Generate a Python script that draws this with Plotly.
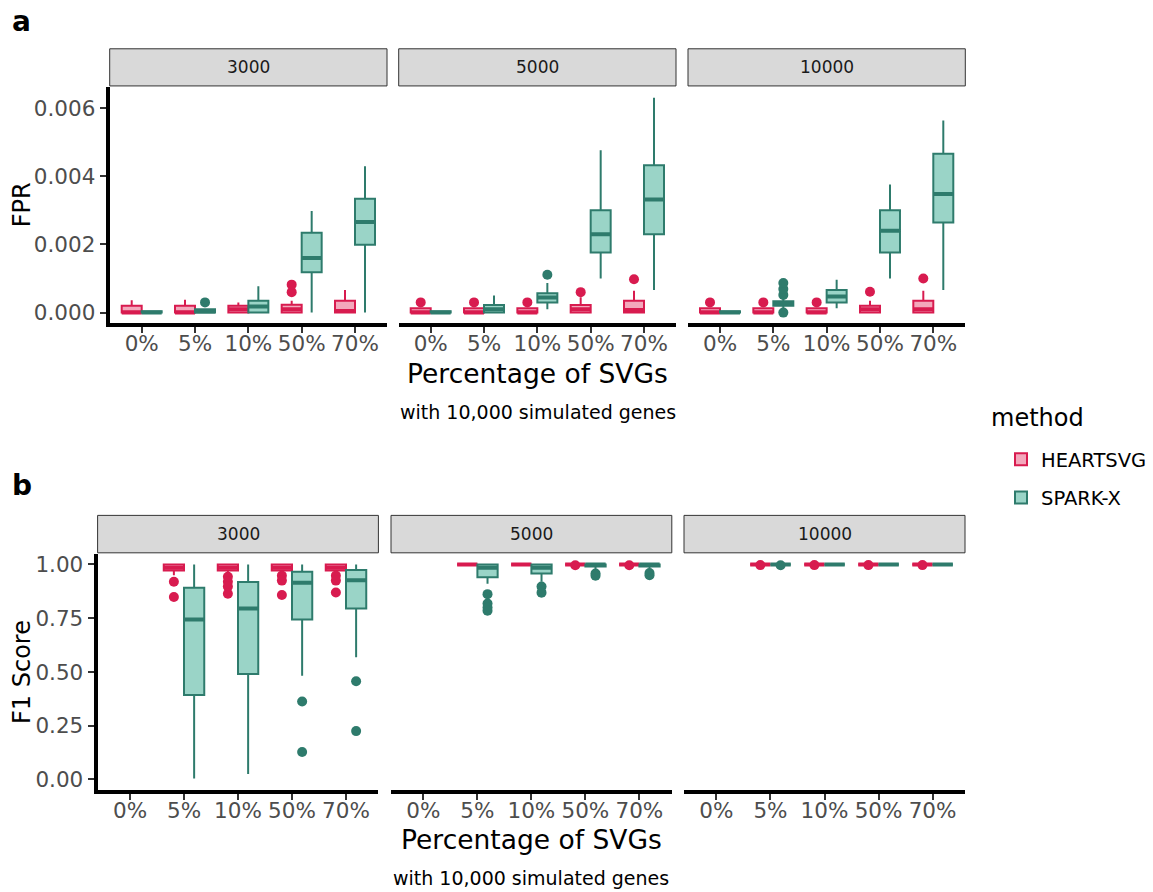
import plotly.graph_objects as go

W, H = 1153, 892

CATEGORIES = ["0%", "5%", "10%", "50%", "70%"]
SIZES = ["3000", "5000", "10000"]
METHODS = ["HEARTSVG", "SPARK-X"]

# Each entry: (lower whisker, q1, median, q3, upper whisker); None = no data
FPR_3000_HEARTSVG = [(0, 0, 0, 0.0002, 0.00036), (0, 0, 0, 0.0002, 0.00038), (0, 0, 0.0001, 0.0002, 0.0003),
                     (0, 0, 0.0001, 0.00023, 0.00035), (0, 0, 0.00005, 0.00035, 0.00066)]
FPR_3000_HEARTSVG_OUT = [[], [], [], [0.0006, 0.00082], []]
FPR_3000_SPARKX = [(0, 0, 0, 0.00004, 0.00004), (0, 0, 0.00003, 0.0001, 0.0001), (0, 0, 0.00018, 0.00035, 0.00077),
                   (0, 0.00118, 0.0016, 0.00234, 0.00298), (0, 0.00199, 0.00266, 0.00334, 0.00429)]
FPR_3000_SPARKX_OUT = [[], [0.0003], [], [], []]

FPR_5000_HEARTSVG = [(0, 0, 0, 0.00013, 0.00013), (0, 0, 0, 0.00013, 0.00013), (0, 0, 0, 0.00013, 0.00013),
                     (0, 0, 0.0001, 0.00022, 0.00045), (0, 0, 0.00008, 0.00035, 0.00064)]
FPR_5000_HEARTSVG_OUT = [[0.0003], [0.0003], [0.0003], [0.0006], [0.00098]]
FPR_5000_SPARKX = [(0, 0, 0, 0.00004, 0.00004), (0, 0, 0.0001, 0.00022, 0.0005), (0.0001, 0.0003, 0.00044, 0.00057, 0.00087),
                   (0.001, 0.00176, 0.0023, 0.003, 0.00476), (0.00066, 0.0023, 0.00332, 0.00432, 0.0063)]
FPR_5000_SPARKX_OUT = [[], [], [0.00111], [], []]

FPR_10000_HEARTSVG = [(0, 0, 0, 0.00013, 0.00013), (0, 0, 0, 0.00013, 0.00013), (0, 0, 0, 0.00013, 0.00013),
                      (0, 0, 0.0001, 0.0002, 0.00035), (0, 0, 0.0001, 0.00035, 0.00064)]
FPR_10000_HEARTSVG_OUT = [[0.0003], [0.0003], [0.0003], [0.00061], [0.001]]
FPR_10000_SPARKX = [(0, 0, 0, 0.00004, 0.00004), (0.0001, 0.0002, 0.00027, 0.00033, 0.00045),
                    (0.00013, 0.0003, 0.00047, 0.00066, 0.00096), (0.001, 0.00176, 0.0024, 0.003, 0.00376),
                    (0.00066, 0.00264, 0.00348, 0.00466, 0.00563)]
FPR_10000_SPARKX_OUT = [[], [0, 0.00052, 0.00069, 0.00087], [], [], []]

F1_3000_HEARTSVG = [None, (0.95, 0.972, 0.985, 1.0, 1.0), (0.955, 0.972, 0.985, 1.0, 1.0),
                    (0.96, 0.972, 0.985, 1.0, 1.0), (0.96, 0.972, 0.985, 1.0, 1.0)]
F1_3000_HEARTSVG_OUT = [[], [0.92, 0.849], [0.943, 0.92, 0.897, 0.864], [0.948, 0.925, 0.858], [0.948, 0.925, 0.87]]
F1_3000_SPARKX = [None, (0.005, 0.393, 0.744, 0.892, 1.0), (0.026, 0.491, 0.795, 0.918, 1.0),
                  (0.483, 0.744, 0.915, 0.966, 1.0), (0.568, 0.795, 0.927, 0.974, 1.0)]
F1_3000_SPARKX_OUT = [[], [], [], [0.363, 0.128], [0.457, 0.225]]

F1_5000_HEARTSVG = [None, (1, 1, 1, 1, 1), (1, 1, 1, 1, 1), (1, 1, 1, 1, 1), (1, 1, 1, 1, 1)]
F1_5000_HEARTSVG_OUT = [[], [], [], [0.996], [0.996]]
F1_5000_SPARKX = [None, (0.91, 0.94, 0.985, 1.0, 1.0), (0.92, 0.958, 0.985, 1.0, 1.0),
                  (0.975, 0.99, 1.0, 1.0, 1.0), (0.975, 0.99, 1.0, 1.0, 1.0)]
F1_5000_SPARKX_OUT = [[], [0.862, 0.818, 0.80, 0.785], [0.897, 0.869], [0.958, 0.948], [0.96, 0.95]]

F1_10000_HEARTSVG = [None, (1, 1, 1, 1, 1), (1, 1, 1, 1, 1), (1, 1, 1, 1, 1), (1, 1, 1, 1, 1)]
F1_10000_HEARTSVG_OUT = [[], [0.997], [0.997], [0.997], [0.997]]
F1_10000_SPARKX = [None, (1, 1, 1, 1, 1), (1, 1, 1, 1, 1), (1, 1, 1, 1, 1), (1, 1, 1, 1, 1)]
F1_10000_SPARKX_OUT = [[], [0.996], [], [], []]

FPR_TICKS = [0, 0.002, 0.004, 0.006]
FPR_TICKTEXT = ["0.000", "0.002", "0.004", "0.006"]
F1_TICKS = [0, 0.25, 0.5, 0.75, 1.0]
F1_TICKTEXT = ["0.00", "0.25", "0.50", "0.75", "1.00"]

LINE = {"HEARTSVG": "#D81B4F", "SPARK-X": "#2E7B6C"}
FILL = {"HEARTSVG": "#F3A8BC", "SPARK-X": "#9AD4C7"}
OFFSET = {"HEARTSVG": -0.1875, "SPARK-X": 0.1875}
FONT = "DejaVu Sans"


def X(px):
    return px / W


def Y(py):
    return 1 - py / H


fig = go.Figure()

rows = [
    {"data": [(FPR_3000_HEARTSVG, FPR_3000_HEARTSVG_OUT, FPR_3000_SPARKX, FPR_3000_SPARKX_OUT),
              (FPR_5000_HEARTSVG, FPR_5000_HEARTSVG_OUT, FPR_5000_SPARKX, FPR_5000_SPARKX_OUT),
              (FPR_10000_HEARTSVG, FPR_10000_HEARTSVG_OUT, FPR_10000_SPARKX, FPR_10000_SPARKX_OUT)],
     "xdom": [(109.7, 387.0), (398.7, 676.0), (688.0, 965.3)],
     "ydom": (85.4, 322.8), "strip": (47.0, 84.3),
     "range": [-0.000315, 0.006615], "ticks": FPR_TICKS, "ticktext": FPR_TICKTEXT,
     "ytitle": "FPR", "title_y": 373, "cap_y": 412, "letter": "a", "letter_y": 20},
    {"data": [(F1_3000_HEARTSVG, F1_3000_HEARTSVG_OUT, F1_3000_SPARKX, F1_3000_SPARKX_OUT),
              (F1_5000_HEARTSVG, F1_5000_HEARTSVG_OUT, F1_5000_SPARKX, F1_5000_SPARKX_OUT),
              (F1_10000_HEARTSVG, F1_10000_HEARTSVG_OUT, F1_10000_SPARKX, F1_10000_SPARKX_OUT)],
     "xdom": [(97.6, 378.4), (391.0, 671.8), (684.0, 965.0)],
     "ydom": (554.2, 791.8), "strip": (515.7, 553.3),
     "range": [-0.05, 1.05], "ticks": F1_TICKS, "ticktext": F1_TICKTEXT,
     "ytitle": "F1 Score", "title_y": 841, "cap_y": 880, "letter": "b", "letter_y": 486},
]

layout = {}
annotations = []
shapes = []
ax = 0
for r, row in enumerate(rows):
    for p in range(3):
        ax += 1
        xs = "x" if ax == 1 else f"x{ax}"
        ys = "y" if ax == 1 else f"y{ax}"
        heart, heart_out, spark, spark_out = row["data"][p]
        for method, stats, outs in (("HEARTSVG", heart, heart_out), ("SPARK-X", spark, spark_out)):
            xv, lo, q1, md, q3, hi = [], [], [], [], [], []
            for i, s in enumerate(stats):
                if s is None:
                    continue
                xv.append(i + OFFSET[method])
                lo.append(s[0]); q1.append(s[1]); md.append(s[2]); q3.append(s[3]); hi.append(s[4])
            fig.add_trace(go.Box(
                x=xv, q1=q1, median=md, q3=q3, lowerfence=lo, upperfence=hi,
                width=0.375, whiskerwidth=0, boxpoints=False,
                line=dict(color=LINE[method], width=2), fillcolor=FILL[method],
                name=method, legendgroup=method, showlegend=(ax == 1),
                xaxis=xs, yaxis=ys, hoverinfo="skip"))
            # thicker median bar (ggplot fatten) drawn as a degenerate box at the median
            fig.add_trace(go.Box(
                x=xv, q1=md, median=md, q3=md, lowerfence=md, upperfence=md,
                width=0.375, whiskerwidth=0, boxpoints=False,
                line=dict(color=LINE[method], width=4), fillcolor="rgba(0,0,0,0)",
                name=method, legendgroup=method, showlegend=False,
                xaxis=xs, yaxis=ys, hoverinfo="skip"))
            ox, oy = [], []
            for i, vals in enumerate(outs):
                for v in vals:
                    ox.append(i + OFFSET[method])
                    oy.append(v)
            if ox:
                fig.add_trace(go.Scatter(
                    x=ox, y=oy, mode="markers",
                    marker=dict(color=LINE[method], size=10, line=dict(width=0)),
                    showlegend=False, legendgroup=method, xaxis=xs, yaxis=ys, hoverinfo="skip"))
        x0, x1 = row["xdom"][p]
        y0, y1 = row["ydom"]
        xkey = "xaxis" if ax == 1 else f"xaxis{ax}"
        ykey = "yaxis" if ax == 1 else f"yaxis{ax}"
        layout[xkey] = dict(
            domain=[X(x0), X(x1)], anchor=ys, range=[-0.6, 4.6],
            tickvals=list(range(len(CATEGORIES))), ticktext=CATEGORIES,
            showline=True, linewidth=4, linecolor="black", mirror=False,
            ticks="outside", ticklen=6, tickwidth=1.5, tickcolor="#333333",
            ticklabelstandoff=-8,
            showgrid=False, zeroline=False,
            tickfont=dict(family=FONT, size=21.5, color="#4D4D4D"))
        first = (p == 0)
        layout[ykey] = dict(
            domain=[Y(y1), Y(y0)], anchor=xs, range=row["range"],
            tickvals=row["ticks"], ticktext=row["ticktext"],
            showticklabels=first, showline=first, linewidth=4, linecolor="black",
            ticks="outside" if first else "", ticklen=6, tickwidth=1.5, tickcolor="#333333",
            showgrid=False, zeroline=False,
            tickfont=dict(family=FONT, size=21.5, color="#4D4D4D"))
        s0, s1 = row["strip"]
        shapes.append(dict(type="rect", xref="paper", yref="paper",
                           x0=X(x0), x1=X(x1), y0=Y(s1), y1=Y(s0),
                           fillcolor="#D9D9D9", line=dict(color="#333333", width=1)))
        annotations.append(dict(text=SIZES[p], xref="paper", yref="paper",
                                x=X((x0 + x1) / 2), y=Y((s0 + s1) / 2), showarrow=False,
                                xanchor="center", yanchor="middle",
                                font=dict(family=FONT, size=17, color="#1A1A1A")))
    xl = row["xdom"][0][0]
    xr = row["xdom"][2][1]
    annotations.append(dict(text="Percentage of SVGs", xref="paper", yref="paper",
                            x=X((xl + xr) / 2), y=Y(row["title_y"]), showarrow=False,
                            xanchor="center", yanchor="middle",
                            font=dict(family=FONT, size=26.5, color="black")))
    annotations.append(dict(text="with 10,000 simulated genes", xref="paper", yref="paper",
                            x=X((xl + xr) / 2), y=Y(row["cap_y"]), showarrow=False,
                            xanchor="center", yanchor="middle",
                            font=dict(family=FONT, size=19, color="black")))
    y0, y1 = row["ydom"]
    annotations.append(dict(text=row["ytitle"], xref="paper", yref="paper",
                            x=X(22), y=Y((y0 + y1) / 2), showarrow=False, textangle=-90,
                            xanchor="center", yanchor="middle",
                            font=dict(family=FONT, size=24, color="black")))
    annotations.append(dict(text="<b>" + row["letter"] + "</b>", xref="paper", yref="paper",
                            x=X(10), y=Y(row["letter_y"]), showarrow=False,
                            xanchor="left", yanchor="middle",
                            font=dict(family=FONT, size=28, color="black")))

annotations.append(dict(text="method", xref="paper", yref="paper",
                        x=X(989), y=Y(418), showarrow=False,
                        xanchor="left", yanchor="middle",
                        font=dict(family=FONT, size=24, color="black")))

fig.update_layout(
    **layout,
    width=W, height=H,
    margin=dict(l=0, r=0, t=0, b=0),
    paper_bgcolor="white", plot_bgcolor="white",
    boxmode="overlay",
    shapes=shapes, annotations=annotations,
    legend=dict(x=X(1001), y=Y(440), xanchor="left", yanchor="top",
                font=dict(family=FONT, size=19.5, color="black"),
                tracegroupgap=10, bgcolor="rgba(0,0,0,0)"),
    font=dict(family=FONT),
)

fig.write_html("out.html", config={"displayModeBar": False},
               post_script="document.body.style.margin='0';")
